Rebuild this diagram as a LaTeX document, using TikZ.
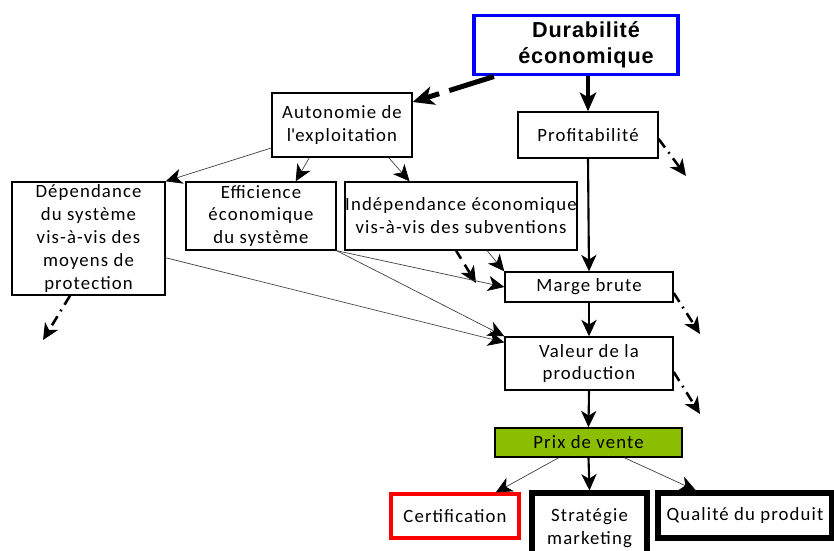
\documentclass[tikz,border=0pt]{standalone}
\usepackage{fontspec}
\setmainfont{Carlito}[LetterSpace=6]
\newfontfamily\titlefont{Liberation Sans}[LetterSpace=4]
\usetikzlibrary{arrows.meta,positioning,calc}
\definecolor{prixgreen}{RGB}{140,190,0}

\begin{document}
\begin{tikzpicture}[x=0.03cm, y=-0.03cm,
  >={Stealth[length=14pt,width=13pt,inset=4pt]},
  box/.style={draw, line width=1.2pt, align=center, inner sep=0pt,
    font=\fontsize{16}{19.6}\selectfont},
  link/.style={-{Stealth[length=14pt,width=13pt,inset=4pt,black]}, black!75, line width=0.6pt},
  mainlink/.style={->, line width=1.8pt},
  dashdot/.style={->, line width=2.2pt, dash pattern=on 9pt off 5pt on 1.5pt off 5pt}]

  \clip (0,0) rectangle (834,550);

  % ---- top: the two first levels ----
  \node[box, draw=blue, line width=3.4pt, minimum width=6.1cm, minimum height=1.77cm,
        font=\titlefont\bfseries\fontsize{18.5}{22.5}\selectfont] (dur) at (576,45)
        {\hspace*{0.6cm}Durabilité\\\hspace*{0.6cm}économique};
  \node[box, minimum width=4.2cm, minimum height=1.92cm] (auto) at (342,125)
        {Autonomie de\\l\textquotesingle exploitation};
  \node[box, minimum width=4.2cm, minimum height=1.38cm] (prof) at (588,135) {Profitabilité};

  % ---- the three indicators under autonomy ----
  \node[box, minimum width=4.59cm, minimum height=3.39cm] (dep) at (88.5,238.5)
        {Dépendance\\du système\\vis-à-vis des\\moyens de\\protection};
  \node[box, minimum width=4.5cm, minimum height=2.04cm] (eff) at (261,216) {Efficience\\économique\\du système};
  \node[box, minimum width=6.96cm, minimum height=2.04cm] (ind) at (461,216)
        {Indépendance économique\\vis-à-vis des subventions};

  % ---- the main chain ----
  \node[box, minimum width=5.04cm, minimum height=0.9cm] (marge) at (589,287) {Marge brute};
  \node[box, minimum width=5.04cm, minimum height=1.59cm] (val) at (589,363.5) {Valeur de la\\production};
  \node[box, fill=prixgreen, minimum width=5.61cm, minimum height=0.87cm] (prix) at (588.5,442.5) {Prix de vente};

  % ---- bottom row ----
  \node[box, draw=red, line width=2.6pt, minimum width=3.84cm, minimum height=1.32cm] (cert) at (455,516) {Certification};
  \node[box, line width=4.3pt, minimum width=3.45cm, minimum height=2.1cm] (strat) at (589.5,528) {Stratégie\\marketing};
  \node[box, line width=4.3pt, minimum width=5.22cm, minimum height=1.35cm] (qual) at (745,515.5) {Qualité du produit};

  % free ends of the dotted arrows
  \coordinate (profout) at (686,176);
  \coordinate (indout) at (476,283);
  \coordinate (depout) at (43,340);
  \coordinate (margeout) at (700,334);
  \coordinate (valout) at (700,414);

  % ---- connectors ----
  \draw[->, line width=4.3pt, dash pattern=on 40pt off 9pt,
        >={Stealth[length=18pt,width=16pt,inset=5pt]}] (dur.201) -- (auto.18);
  \draw[->, line width=3.4pt, >={Stealth[length=16pt,width=14pt,inset=4pt]}]
        (dur.south -| prof.north) -- (prof.north);

  \draw[link] (auto.198) -- (dep.north east);
  \draw[link] (auto.225) -- (eff.45);
  \draw[link] (auto.325) -- (ind.146);

  \draw[mainlink] (prof.south) -- (marge.north);
  \draw[link] (ind.307) -- (marge.north west);
  \draw[->, line width=2.2pt, dash pattern=on 8pt off 6pt] (ind.262) -- (indout);
  \draw[link] (eff.south east) -- (marge.west);
  \draw[link] (eff.south east) -- (val.north west);
  \draw[link] (dep.346) -- (val.166);

  \draw[mainlink] (marge.south) -- (val.north);
  \draw[mainlink] (val.south) -- (prix.north);

  \draw[link] (prix.207) -- (cert.30);
  \draw[mainlink] (prix.south) -- (strat.north);
  \draw[link] (prix.337) -- (qual.153);

  \draw[dashdot] (prof.east |- 0,139) -- (profout);
  \draw[dashdot] (dep.south -| 70,0) -- (depout);
  \draw[dashdot] (marge.east |- 0,293) -- (margeout);
  \draw[dashdot] (val.east |- 0,372) -- (valout);

\end{tikzpicture}
\end{document}
